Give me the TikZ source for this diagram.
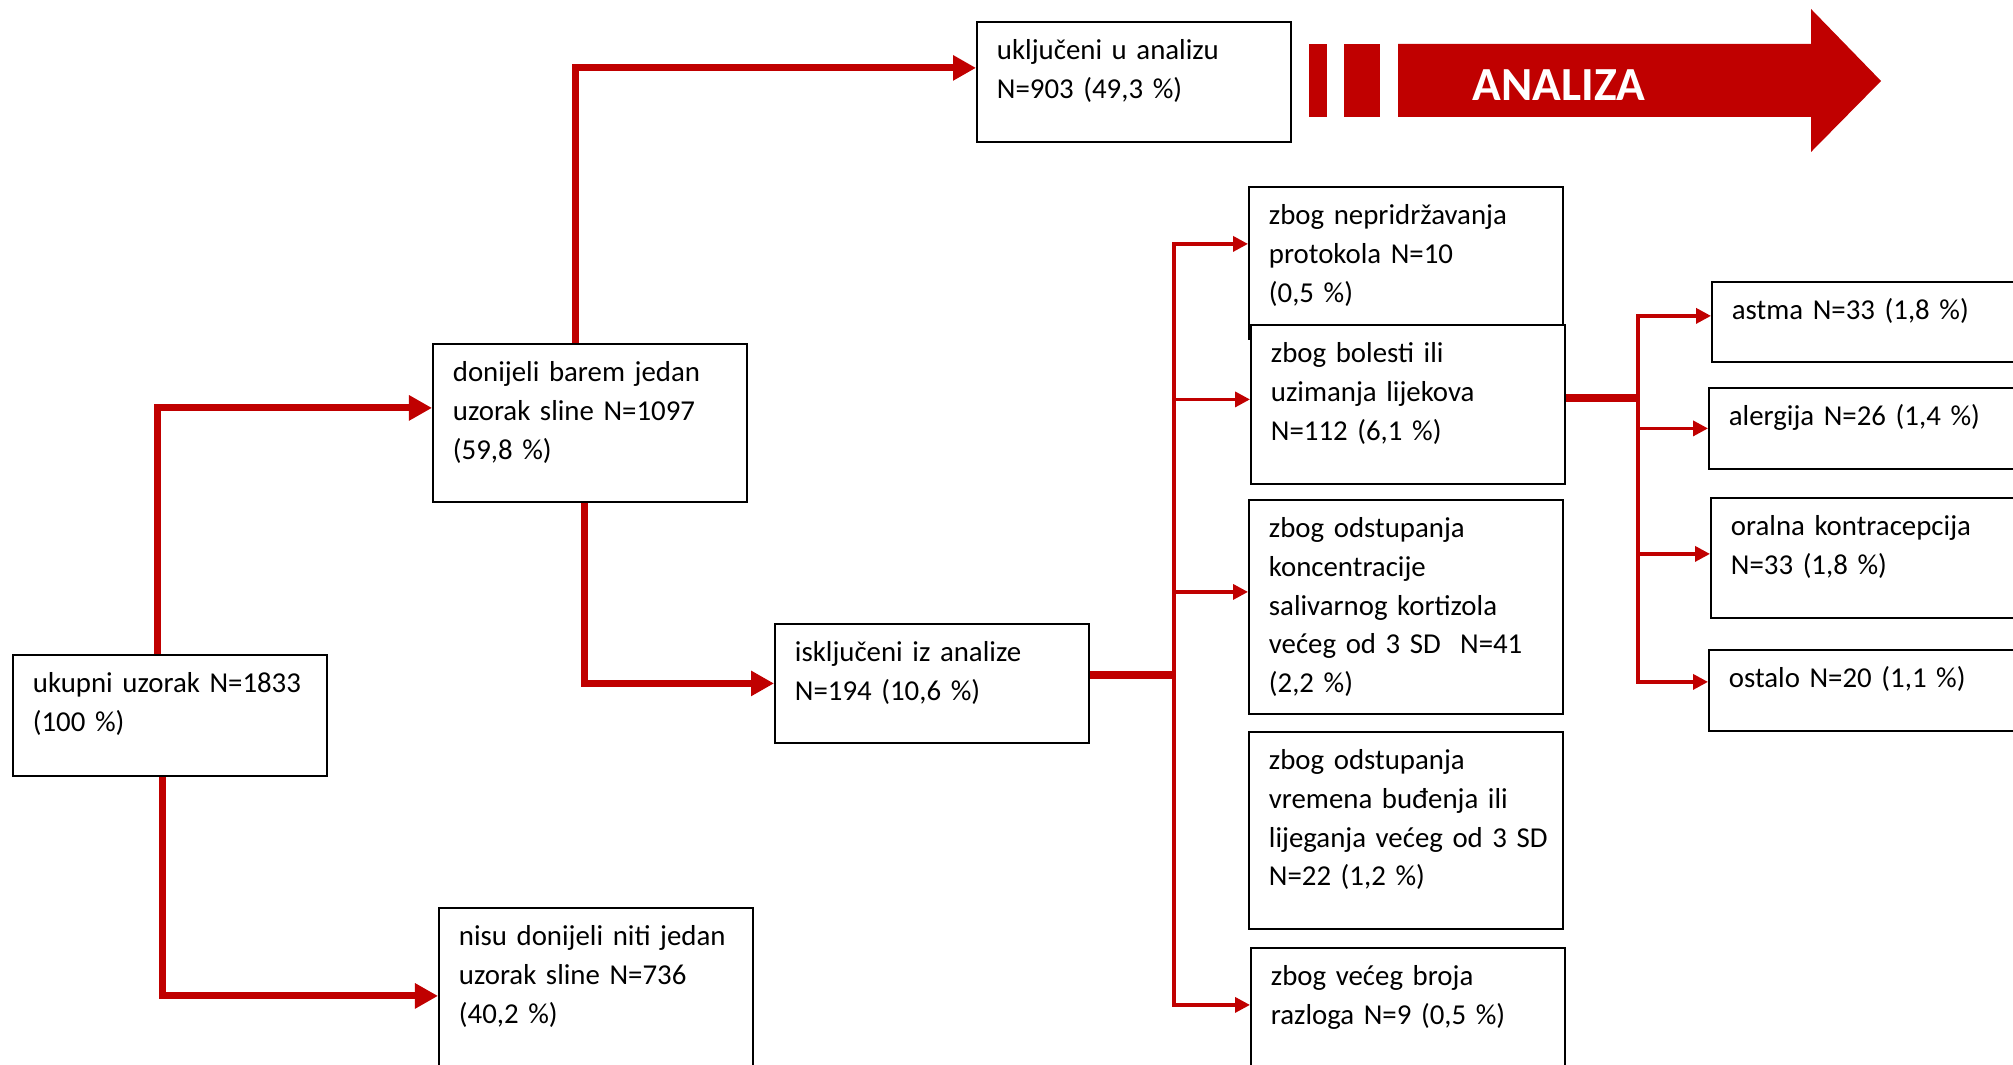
\documentclass[tikz,border=0pt]{standalone}
\usepackage{fontspec}
\setmainfont{Carlito}
\usetikzlibrary{arrows.meta}
\definecolor{darkred}{HTML}{C00000}
\begin{document}
\begin{tikzpicture}[x=0.01cm, y=-0.01cm,
    entry/.style ={draw, line width=0.5pt, fill=white, anchor=north west, align=left,
      text width=2.74cm, inner xsep=0.2cm, inner ysep=0.1cm, text height=0.28cm,
      font=\fontsize{8.2}{11}\selectfont},
    mainflow/.style ={darkred, line width=2pt, -{Triangle[length=0.23cm, width=0.24cm]}},
    sideflow/.style ={darkred, line width=1pt, -{Triangle[length=0.15cm, width=0.15cm]}},
    stub/.style ={darkred, line width=2pt}]
   \useasboundingbox (0,0) rectangle (2013,1064);

   \node[entry, text depth=0.73cm] (ukupni)     at (12,654)   {ukupni uzorak N=1833\\(100 \%)};
   \node[entry, text depth=1.10cm] (donijeli)   at (432,343)  {donijeli barem jedan\\uzorak sline N=1097\\(59,8 \%)};
   \node[entry, text depth=1.12cm] (nisu)       at (438,907)  {nisu donijeli niti jedan\\uzorak sline N=736\\(40,2 \%)};
   \node[entry, text depth=0.72cm] (ukljuceni)  at (976,21)   {uključeni u analizu\\N=903 (49,3 \%)};
   \node[entry, text depth=0.71cm] (iskljuceni) at (774,623)  {isključeni iz analize\\N=194 (10,6 \%)};

   \node[entry, text depth=1.04cm] (protokol)   at (1248,186) {zbog nepridržavanja\\protokola N=10\\(0,5 \%)};
   \node[entry, text depth=1.11cm] (bolest)     at (1250,324) {zbog bolesti ili\\uzimanja lijekova\\N=112 (6,1 \%)};
   \node[entry, text depth=1.66cm] (kortizol)   at (1248,499) {zbog odstupanja\\koncentracije\\salivarnog kortizola\\većeg od 3 SD~~N=41\\(2,2 \%)};
   \node[entry, text depth=1.49cm] (budenje)    at (1248,731) {zbog odstupanja\\vremena buđenja ili\\\mbox{lijeganja većeg od 3 SD}\\N=22 (1,2 \%)};
   \node[entry, text depth=1.12cm] (razlozi)    at (1250,947) {zbog većeg broja\\razloga N=9 (0,5 \%)};

   \node[entry, text depth=0.32cm] (astma)      at (1711,281) {astma N=33 (1,8 \%)};
   \node[entry, text depth=0.33cm] (alergija)   at (1708,387) {alergija N=26 (1,4 \%)};
   \node[entry, text depth=0.72cm] (oralna)     at (1710,497) {oralna kontracepcija\\N=33 (1,8 \%)};
   \node[entry, text depth=0.33cm] (ostalo)     at (1708,649) {ostalo N=20 (1,1 \%)};

   \draw[mainflow] ([xshift=-0.12cm]ukupni.north) |- ([yshift=0.15cm]donijeli.west);
   \draw[mainflow] ([xshift=-0.07cm]ukupni.south) |- ([yshift=-0.08cm]nisu.west);
   \draw[mainflow] ([xshift=-0.14cm]donijeli.north) |- ([yshift=0.14cm]ukljuceni.west);
   \draw[mainflow] ([xshift=-0.05cm]donijeli.south) |- (iskljuceni.west);

   \coordinate (split1) at (1174,675);
   \draw[stub] (split1 -| iskljuceni.east) -- (split1);
   \draw[sideflow] (split1) |- ([yshift=0.19cm]protokol.west);
   \draw[sideflow] (split1) |- ([yshift=0.05cm]bolest.west);
   \draw[sideflow] (split1) |- ([yshift=0.15cm]kortizol.west);
   \draw[sideflow] (split1) |- ([yshift=0.23cm]razlozi.west);

   \coordinate (split2) at (1638,398);
   \draw[stub] (split2 -| bolest.east) -- (split2);
   \draw[sideflow] (split2) |- ([yshift=0.06cm]astma.west);
   \draw[sideflow] (split2) |- (alergija.west);
   \draw[sideflow] (split2) |- ([yshift=0.04cm]oralna.west);
   \draw[sideflow] (split2) |- ([yshift=0.085cm]ostalo.west);

   \fill[darkred] (1309,44) rectangle (1327,117);
   \fill[darkred] (1344,44) rectangle (1380,117);
   \fill[darkred] (1398,44) -- (1811,44) -- (1811,9) -- (1881,81) -- (1811,152) -- (1811,117) -- (1398,117) -- cycle;
   \node[white, font=\fontsize{13.5}{16}\selectfont\bfseries] (analiza) at (1559,85) {ANALIZA};
 \end{tikzpicture}
\end{document}
